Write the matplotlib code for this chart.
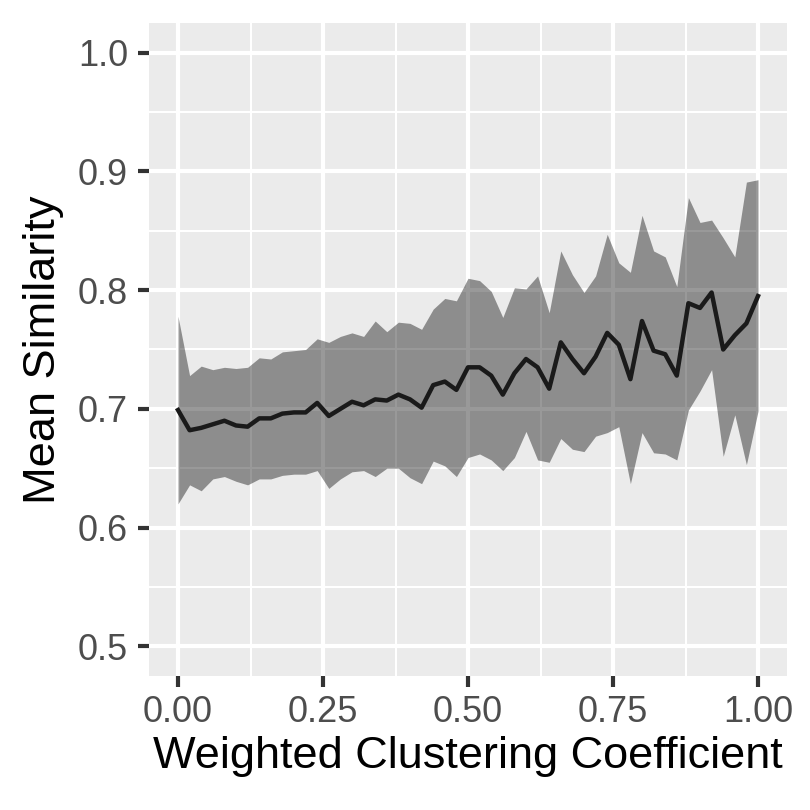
import numpy as np
import matplotlib
matplotlib.use("Agg")
from matplotlib import pyplot as plt

# weighted clustering coefficient bins (step 0.02)
wcc = [0.00, 0.02, 0.04, 0.06, 0.08, 0.10, 0.12, 0.14, 0.16, 0.18,
       0.20, 0.22, 0.24, 0.26, 0.28, 0.30, 0.32, 0.34, 0.36, 0.38,
       0.40, 0.42, 0.44, 0.46, 0.48, 0.50, 0.52, 0.54, 0.56, 0.58,
       0.60, 0.62, 0.64, 0.66, 0.68, 0.70, 0.72, 0.74, 0.76, 0.78,
       0.80, 0.82, 0.84, 0.86, 0.88, 0.90, 0.92, 0.94, 0.96, 0.98, 1.00]

mean_sim = [0.699, 0.682, 0.684, 0.687, 0.690, 0.686, 0.685, 0.692, 0.692, 0.696,
            0.697, 0.697, 0.705, 0.694, 0.700, 0.706, 0.703, 0.708, 0.707, 0.712,
            0.708, 0.701, 0.720, 0.723, 0.716, 0.735, 0.735, 0.728, 0.712, 0.730,
            0.742, 0.735, 0.717, 0.756, 0.742, 0.730, 0.744, 0.764, 0.754, 0.725,
            0.774, 0.749, 0.746, 0.728, 0.789, 0.785, 0.798, 0.750, 0.762, 0.772, 0.795]

upper = [0.778, 0.728, 0.736, 0.733, 0.735, 0.734, 0.735, 0.743, 0.742, 0.748,
         0.749, 0.750, 0.759, 0.756, 0.761, 0.764, 0.761, 0.774, 0.765, 0.773,
         0.772, 0.767, 0.784, 0.793, 0.791, 0.810, 0.808, 0.799, 0.777, 0.802,
         0.801, 0.812, 0.781, 0.833, 0.813, 0.798, 0.812, 0.847, 0.823, 0.815,
         0.863, 0.833, 0.828, 0.803, 0.878, 0.857, 0.859, 0.844, 0.828, 0.891, 0.893]

lower = [0.620, 0.636, 0.631, 0.641, 0.643, 0.639, 0.636, 0.641, 0.641, 0.644,
         0.645, 0.645, 0.648, 0.633, 0.641, 0.647, 0.648, 0.643, 0.650, 0.650,
         0.642, 0.637, 0.656, 0.652, 0.643, 0.659, 0.662, 0.657, 0.648, 0.659,
         0.681, 0.657, 0.655, 0.675, 0.666, 0.664, 0.677, 0.680, 0.685, 0.637,
         0.680, 0.663, 0.662, 0.657, 0.699, 0.715, 0.733, 0.660, 0.695, 0.653, 0.698]

x_ticks = [0.00, 0.25, 0.50, 0.75, 1.00]
y_ticks = [0.5, 0.6, 0.7, 0.8, 0.9, 1.0]

plt.rcParams['font.family'] = ['Liberation Sans', 'DejaVu Sans']

fig = plt.figure(figsize=(8.1, 8.1), dpi=100)
ax = fig.add_axes([149 / 810, 134 / 810, 638 / 810, 653 / 810])
ax.set_facecolor('#EBEBEB')
for s in ax.spines.values():
    s.set_visible(False)

# grid like ggplot theme_grey
ax.set_xticks(x_ticks)
ax.set_yticks(y_ticks)
ax.set_xticks([0.125, 0.375, 0.625, 0.875], minor=True)
ax.set_yticks([0.55, 0.65, 0.75, 0.85, 0.95], minor=True)
ax.grid(which='major', color='white', linewidth=3.0)
ax.grid(which='minor', color='white', linewidth=1.5)
ax.set_axisbelow(True)

ax.fill_between(wcc, lower, upper, color='black', alpha=0.4, linewidth=0)
ax.plot(wcc, mean_sim, color='#1A1A1A', linewidth=3.2)

ax.set_xlim(-0.05, 1.05)
ax.set_ylim(0.475, 1.025)
ax.set_xticklabels(['0.00', '0.25', '0.50', '0.75', '1.00'])
ax.set_yticklabels(['0.5', '0.6', '0.7', '0.8', '0.9', '1.0'])
ax.tick_params(which='major', length=8, width=3.0, color='#333333',
               labelsize=26, labelcolor='#4D4D4D')
ax.tick_params(axis='x', pad=6)
ax.tick_params(axis='y', pad=7)
ax.tick_params(which='minor', length=0)

ax.set_xlabel('Weighted Clustering Coefficient', fontsize=32.5, labelpad=4)
ax.set_ylabel('Mean Similarity', fontsize=32.5, labelpad=10)

fig.savefig('out.png', dpi=100)
